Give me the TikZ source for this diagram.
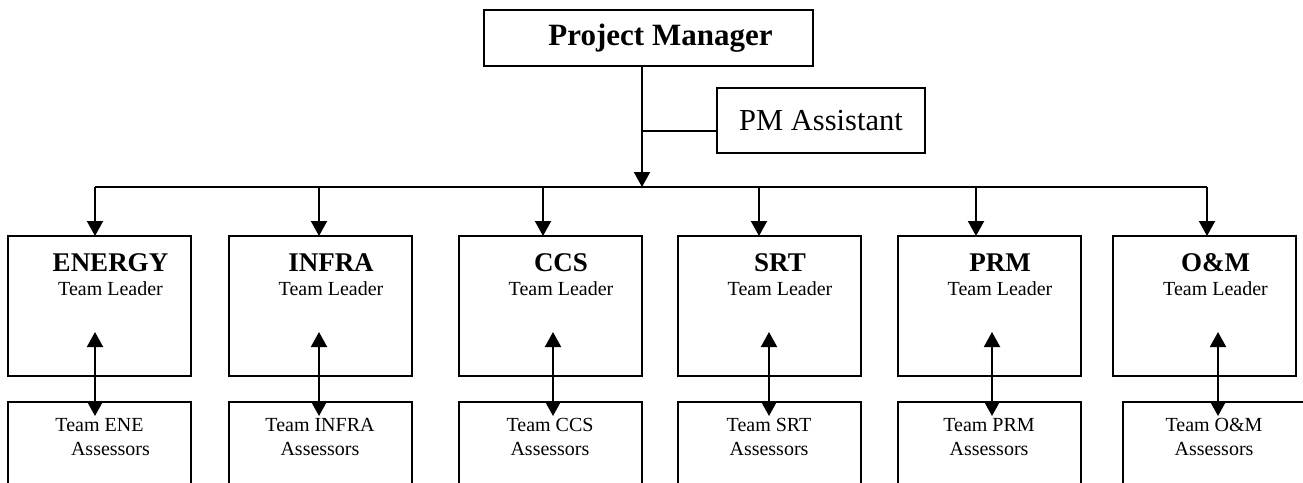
\documentclass[tikz,border=0pt]{standalone}
\usepackage{fontspec}
\setmainfont{Liberation Serif}
\usetikzlibrary{arrows.meta,positioning}

\newcommand{\unitname}[1]{{\fontsize{27}{24}\selectfont\bfseries\rule{0pt}{20pt}#1}}
\newcommand{\teamline}[1]{\rule{0pt}{15pt}#1}

\begin{document}
\begin{tikzpicture}[x=1pt, y=-1pt, >={Triangle[width=16pt,length=15pt]},
    orgbox/.style={draw, line width=2pt, inner sep=0pt, outer sep=0pt},
    headbox/.style={orgbox, minimum width=329pt, minimum height=56pt, font=\fontsize{31}{36}\selectfont\bfseries},
    asstbox/.style={orgbox, minimum width=208pt, minimum height=65pt, font=\fontsize{30.5}{36}\selectfont},
    leaderbox/.style={orgbox, minimum width=183pt, minimum height=140pt},
    teambox/.style={orgbox, minimum width=183pt, minimum height=110pt},
    leadertext/.style={anchor=north, inner sep=0pt, yshift=-15pt, xshift=11pt, align=center, font=\fontsize{20}{24}\selectfont},
    teamtext/.style={anchor=north, inner sep=0pt, yshift=-14pt, align=center, font=\fontsize{20}{24}\selectfont},
    link/.style={line width=2pt}]
    \useasboundingbox (0,0) rectangle (1303,482);
    \clip (0,0) rectangle (1303,482);

    % Define nodes
    \node[headbox] (PM) at (648.5,38) {\hspace*{24pt}Project Manager};
    \node[asstbox] (PA) at (821,120.5) {PM Assistant};

    \node[leaderbox, label={[leadertext]north:{\unitname{ENERGY}\\Team Leader}}] (ENE) at (99.5,306) {};
    \node[leaderbox, label={[leadertext]north:{\unitname{INFRA}\\Team Leader}}] (INF) at (320,306) {};
    \node[leaderbox, label={[leadertext]north:{\unitname{CCS}\\Team Leader}}] (CCS) at (550,306) {};
    \node[leaderbox, label={[leadertext]north:{\unitname{SRT}\\Team Leader}}] (SRT) at (769,306) {};
    \node[leaderbox, label={[leadertext]north:{\unitname{PRM}\\Team Leader}}] (PRM) at (989,306) {};
    \node[leaderbox, label={[leadertext]north:{\unitname{O\&M}\\Team Leader}}] (OM) at (1204.5,306) {};

    \node[teambox, below=26pt of ENE, label={[teamtext]north:{\teamline{Team ENE}\\\hspace*{22pt}Assessors}}] (ENEt) {};
    \node[teambox, below=26pt of INF, label={[teamtext]north:{\teamline{Team INFRA}\\Assessors}}] (INFt) {};
    \node[teambox, below=26pt of CCS, label={[teamtext]north:{\teamline{Team CCS}\\Assessors}}] (CCSt) {};
    \node[teambox, below=26pt of SRT, label={[teamtext]north:{\teamline{Team SRT}\\Assessors}}] (SRTt) {};
    \node[teambox, below=26pt of PRM, label={[teamtext]north:{\teamline{Team PRM}\\Assessors}}] (PRMt) {};
    \node[teambox, below=26pt of OM, xshift=9.5pt, label={[teamtext]north:{\teamline{Team O\&M}\\Assessors}}] (OMt) {};

    % bus and branch points
    \coordinate (hub) at (642,187);
    \coordinate (junc) at (642,131);
    \coordinate (b1) at (95,187);
    \coordinate (b2) at (319,187);
    \coordinate (b3) at (543,187);
    \coordinate (b4) at (759,187);
    \coordinate (b5) at (976,187);
    \coordinate (b6) at (1207,187);

    \draw[link,->] (PM.south -| hub) -- (hub);
    \draw[link] (junc) -- (junc -| PA.west);
    \draw[link] (b1) -- (b6);

    \draw[link,->] (b1) -- (b1 |- ENE.north);
    \draw[link,->] (b2) -- (b2 |- INF.north);
    \draw[link,->] (b3) -- (b3 |- CCS.north);
    \draw[link,->] (b4) -- (b4 |- SRT.north);
    \draw[link,->] (b5) -- (b5 |- PRM.north);
    \draw[link,->] (b6) -- (b6 |- OM.north);

    \draw[link,<->] ([xshift=-4.5pt,yshift=44pt]ENE.south) -- ([xshift=-4.5pt,yshift=-14pt]ENEt.north);
    \draw[link,<->] ([xshift=-1pt,yshift=44pt]INF.south) -- ([xshift=-1pt,yshift=-14pt]INFt.north);
    \draw[link,<->] ([xshift=3pt,yshift=44pt]CCS.south) -- ([xshift=3pt,yshift=-14pt]CCSt.north);
    \draw[link,<->] ([yshift=44pt]SRT.south) -- ([yshift=-14pt]SRTt.north);
    \draw[link,<->] ([xshift=3pt,yshift=44pt]PRM.south) -- ([xshift=3pt,yshift=-14pt]PRMt.north);
    \draw[link,<->] ([xshift=13.5pt,yshift=44pt]OM.south) -- ([xshift=4pt,yshift=-14pt]OMt.north);

\end{tikzpicture}
\end{document}
